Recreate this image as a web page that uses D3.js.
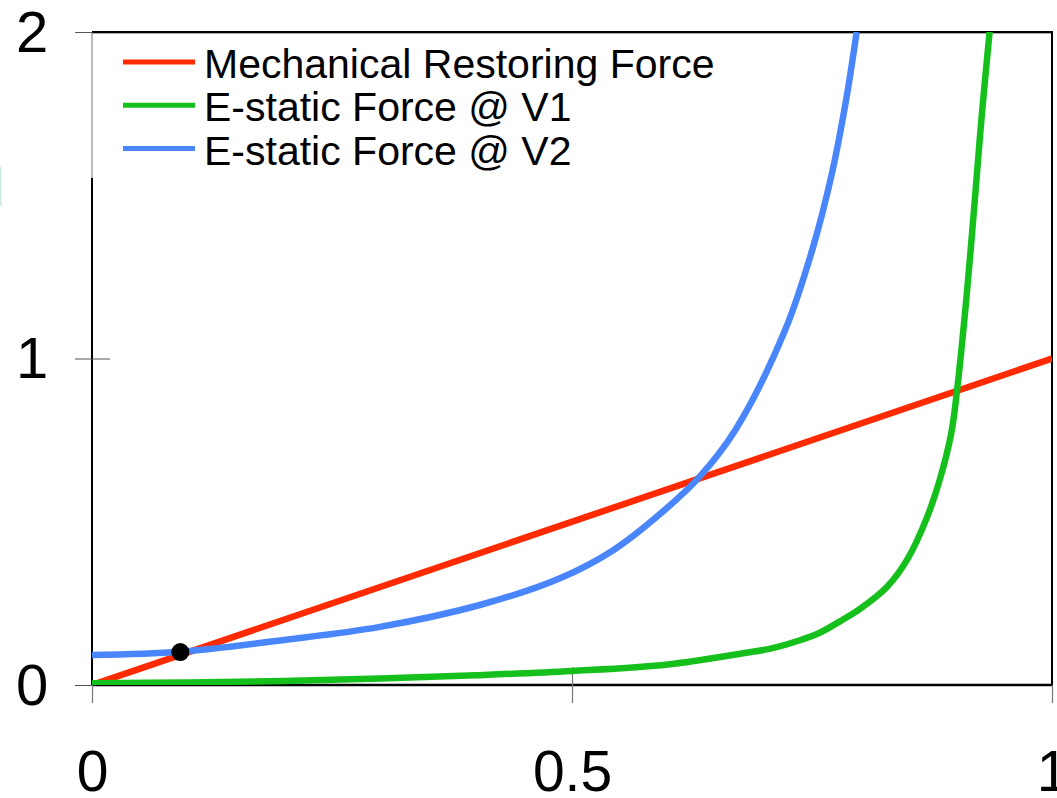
<!DOCTYPE html>
<html>
<head>
<meta charset="utf-8">
<script src="https://cdn.jsdelivr.net/npm/d3@7"></script>
<style>
  body { margin: 0; background: #fff; }
  svg { display: block; font-family: "Liberation Sans", Arial, Helvetica, sans-serif; }
</style>
</head>
<body>
<script>
// values
const xTicks = [0, 0.5, 1];
const yTicks = [0, 1, 2];

const seriesNames = ["Mechanical Restoring Force", "E-static Force @ V1", "E-static Force @ V2"];
const seriesColors = ["#ff2a00", "#16c01c", "#4a86fb"];

const restoringX = [0, 1];
const restoringY = [0, 1];

const v1X = [0, 0.1, 0.2, 0.3, 0.4, 0.5, 0.6, 0.68, 0.709, 0.7375, 0.758, 0.782, 0.8, 0.828, 0.849, 0.87, 0.883, 0.895, 0.901, 0.911, 0.92, 0.927, 0.935];
const v1Y = [0.005, 0.008, 0.012, 0.02, 0.03, 0.043, 0.063, 0.098, 0.113, 0.137, 0.16, 0.2, 0.233, 0.30, 0.383, 0.515, 0.628, 0.77, 0.9, 1.19, 1.5, 1.75, 2.0];

const v2X = [0, 0.092, 0.2, 0.3, 0.404, 0.4875, 0.543, 0.595, 0.633, 0.67, 0.722, 0.751, 0.7715, 0.786, 0.7965];
const v2Y = [0.092, 0.102, 0.138, 0.178, 0.245, 0.327, 0.413, 0.532, 0.638, 0.78, 1.087, 1.34, 1.577, 1.80, 2.0];

const eqX = [0.092];
const eqY = [0.101];

const width = 1057, height = 798;
const margin = {top: 32, right: 5, bottom: 113, left: 92};

const svg = d3.select("body").append("svg")
  .attr("width", width)
  .attr("height", height);

const x = d3.scaleLinear().domain([0, 1]).range([margin.left, width - margin.right]);
const y = d3.scaleLinear().domain([0, 2]).range([height - margin.bottom, margin.top]);

// faint mark at the left edge
svg.append("rect")
  .attr("x", 0).attr("y", 167).attr("width", 1.5).attr("height", 39)
  .attr("fill", "#cfe6e6");

// frame
svg.append("line")
  .attr("x1", x(0)).attr("x2", x(1)).attr("y1", y(2) + 1.5).attr("y2", y(2) + 1.5)
  .attr("stroke", "#aaa").attr("stroke-width", 1);
svg.append("line")
  .attr("x1", x(0)).attr("x2", x(1) + 1).attr("y1", y(2)).attr("y2", y(2))
  .attr("stroke", "#000").attr("stroke-width", 2);
svg.append("line")
  .attr("x1", x(1)).attr("x2", x(1)).attr("y1", y(2)).attr("y2", y(0))
  .attr("stroke", "#000").attr("stroke-width", 2);
svg.append("line")
  .attr("x1", x(0)).attr("x2", x(0)).attr("y1", y(2)).attr("y2", 178)
  .attr("stroke", "#777").attr("stroke-width", 1);
svg.append("line")
  .attr("x1", x(0)).attr("x2", x(0)).attr("y1", 178).attr("y2", y(0))
  .attr("stroke", "#000").attr("stroke-width", 2);
svg.append("line")
  .attr("x1", x(0)).attr("x2", x(1) + 1).attr("y1", y(0)).attr("y2", y(0))
  .attr("stroke", "#000").attr("stroke-width", 2.5);

// y axis
const yAxis = svg.append("g")
  .attr("transform", `translate(${x(0)},0)`)
  .call(d3.axisLeft(y).tickValues(yTicks).tickSize(17).tickFormat(d3.format("")));
yAxis.select(".domain").remove();
yAxis.selectAll(".tick line").attr("stroke", "#555").attr("stroke-width", 1);
yAxis.selectAll(".tick text")
  .attr("x", -60).attr("dy", "0.33em")
  .attr("text-anchor", "middle")
  .attr("font-size", 58).attr("font-family", null).attr("fill", "#000");

// inner half of the crossing tick at 1
const yInner = svg.append("g")
  .attr("transform", `translate(${x(0)},0)`)
  .call(d3.axisRight(y).tickValues([1]).tickSize(18).tickFormat(""));
yInner.select(".domain").remove();
yInner.selectAll(".tick line").attr("stroke", "#555").attr("stroke-width", 1);

// x axis
const xAxis = svg.append("g")
  .attr("transform", `translate(0,${y(0)})`)
  .call(d3.axisBottom(x).tickValues(xTicks).tickSize(18).tickFormat(d3.format("")));
xAxis.select(".domain").remove();
xAxis.selectAll(".tick line").attr("stroke", "#777").attr("stroke-width", 1.2);
xAxis.selectAll(".tick text")
  .attr("y", 106).attr("dy", 0)
  .attr("text-anchor", "middle")
  .attr("font-size", 57).attr("font-family", null).attr("fill", "#000");

const xInner = svg.append("g")
  .attr("transform", `translate(0,${y(0)})`)
  .call(d3.axisTop(x).tickValues([0.5]).tickSize(18).tickFormat(""));
xInner.select(".domain").remove();
xInner.selectAll(".tick line").attr("stroke", "#777").attr("stroke-width", 1.2);

// curves
svg.append("clipPath").attr("id", "plot")
  .append("rect")
  .attr("x", x(0)).attr("y", y(2))
  .attr("width", x(1) - x(0)).attr("height", y(0) - y(2));

const line = d3.line()
  .x(d => x(d[0]))
  .y(d => y(d[1]))
  .curve(d3.curveCatmullRom.alpha(0.5));

const series = [
  d3.zip(restoringX, restoringY),
  d3.zip(v1X, v1Y),
  d3.zip(v2X, v2Y)
];

const plot = svg.append("g").attr("clip-path", "url(#plot)");
plot.selectAll("path")
  .data(series)
  .join("path")
  .attr("d", line)
  .attr("fill", "none")
  .attr("stroke", (d, i) => seriesColors[i])
  .attr("stroke-width", 6.5)
  .attr("stroke-linejoin", "round");

svg.selectAll("circle.eq")
  .data(d3.zip(eqX, eqY))
  .join("circle")
  .attr("class", "eq")
  .attr("cx", d => x(d[0]))
  .attr("cy", d => y(d[1]))
  .attr("r", 9)
  .attr("fill", "#000");

// legend
const legend = svg.append("g").attr("transform", "translate(123,62)");
const item = legend.selectAll("g")
  .data(seriesNames)
  .join("g")
  .attr("transform", (d, i) => `translate(0,${i * 43.3})`);
item.append("line")
  .attr("x1", 0).attr("x2", 72)
  .attr("stroke", (d, i) => seriesColors[i])
  .attr("stroke-width", 5);
item.append("text")
  .attr("x", 81).attr("y", 16)
  .attr("font-size", 41)
  .attr("fill", "#000")
  .text(d => d);
</script>
</body>
</html>
